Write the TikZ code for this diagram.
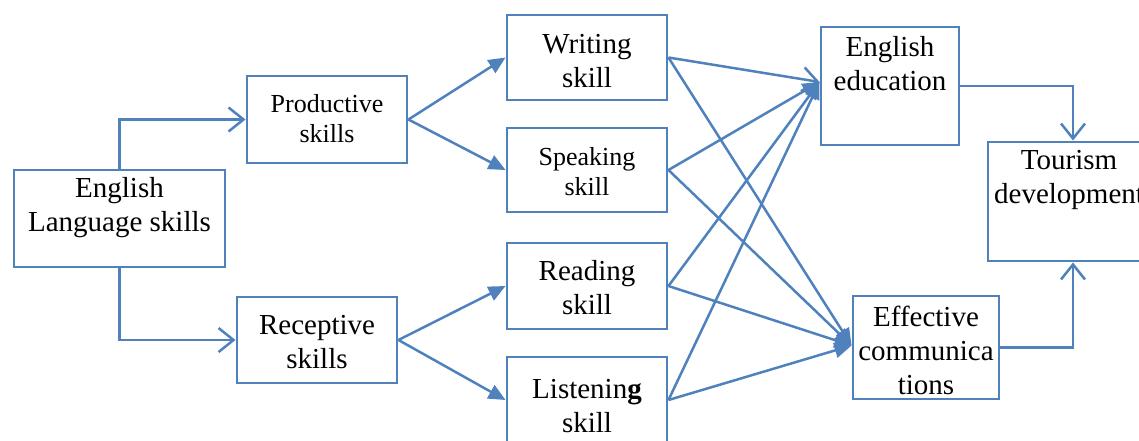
\documentclass[tikz,border=0pt]{standalone}
\usepackage{fontspec}
\setmainfont{Liberation Serif}
\usetikzlibrary{arrows.meta}
\definecolor{bl}{RGB}{79,129,189}
\begin{document}
\begin{tikzpicture}[x=1pt,y=-1pt,
  box/.style={draw=bl, line width=2.9pt, inner sep=0pt},
  conn/.style={draw=bl, line width=2.5pt},
  openarr/.style={conn, -{Straight Barb[length=15pt,width=24pt,line width=2.5pt]}},
  solidarr/.style={conn, -{Triangle[length=17pt,width=15pt]}},
  txtbig/.style={align=center, font=\fontsize{29}{34}\selectfont, inner sep=0pt},
  txtsmall/.style={align=center, font=\fontsize{26}{30}\selectfont, inner sep=0pt}]
\useasboundingbox (0,0) rectangle (1139,440);
% boxes
\node[box, minimum width=211pt, minimum height=97pt] (lang) at (119.5,218.5) {};
\node[box, minimum width=160pt, minimum height=87pt] (prod) at (327,119.5) {};
\node[box, minimum width=160pt, minimum height=86pt] (rec) at (317,340) {};
\node[box, minimum width=160pt, minimum height=85pt] (writ) at (587,57.5) {};
\node[box, minimum width=160pt, minimum height=84pt] (spk) at (587,170) {};
\node[box, minimum width=160pt, minimum height=86pt] (read) at (587,286) {};
\node[box, minimum width=160pt, minimum height=86pt] (list) at (587,400) {};
\node[box, minimum width=138pt, minimum height=118pt] (edu) at (890,86) {};
\node[box, minimum width=146pt, minimum height=103pt] (eff) at (926,347.5) {};
\node[box, minimum width=170pt, minimum height=119pt] (tour) at (1073,201.5) {};
% texts
\node[txtbig] (langt) at (119.5,208) {English\\Language skills};
\node[txtsmall] (prodt) at (327,119) {Productive\\skills};
\node[txtbig] (rect) at (317,342) {Receptive\\skills};
\node[txtbig] (writt) at (587,61) {Writing\\skill};
\node[txtsmall] (spkt) at (587,172) {Speaking\\skill};
\node[txtbig] (readt) at (587,288) {Reading\\skill};
\node[txtbig] (listt) at (587,406) {Listenin\textbf{g}\\skill};
\node[txtbig] (edut) at (890,64) {English\\education};
\node[txtbig] (efft) at (926,350) {Effective\\communica\\tions};
\node[txtbig] (tourt) at (1069,180) {Tourism\\development};
% connectors
\draw[openarr] (lang.north) |- (prod.west);
\draw[openarr] (lang.south) |- (rec.west);
\draw[solidarr] (prod.east) -- (writ.west);
\draw[solidarr] (prod.east) -- (spk.west);
\draw[solidarr] (rec.east) -- (read.west);
\draw[solidarr] (rec.east) -- (list.west);
\draw[openarr] (writ.east) -- ([yshift=4pt]edu.west);
\draw[solidarr] (spk.east) -- ([yshift=4pt]edu.west);
\draw[solidarr] (read.east) -- ([yshift=4pt]edu.west);
\draw[solidarr] (list.east) -- ([yshift=4pt]edu.west);
\draw[solidarr] (writ.east) -- ([yshift=2pt]eff.west);
\draw[solidarr] (spk.east) -- ([yshift=2pt]eff.west);
\draw[solidarr] (read.east) -- ([yshift=2pt]eff.west);
\draw[solidarr] (list.east) -- ([yshift=2pt]eff.west);
\draw[openarr] (edu.east) -| (tour.north);
\draw[openarr] (eff.east) -| (tour.south);
\end{tikzpicture}
\end{document}
